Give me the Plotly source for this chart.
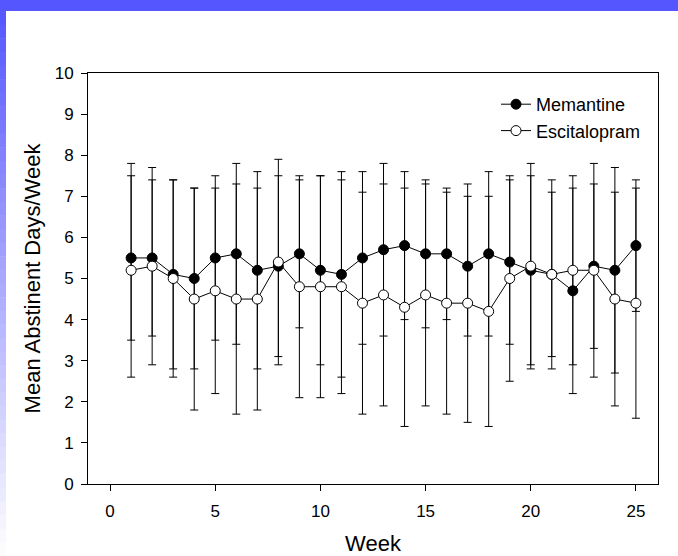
import plotly.graph_objects as go

weeks = list(range(1, 26))
memantine_mean = [5.5, 5.5, 5.1, 5.0, 5.5, 5.6, 5.2, 5.3, 5.6, 5.2, 5.1, 5.5, 5.7, 5.8, 5.6, 5.6, 5.3, 5.6, 5.4, 5.2, 5.1, 4.7, 5.3, 5.2, 5.8]
memantine_sd = [2.0, 1.9, 2.3, 2.2, 2.0, 2.2, 2.4, 2.2, 1.8, 2.3, 2.5, 2.1, 2.1, 1.8, 1.8, 1.6, 1.7, 2.0, 2.0, 2.3, 2.3, 2.5, 2.0, 2.5, 1.6]
escitalopram_mean = [5.2, 5.3, 5.0, 4.5, 4.7, 4.5, 4.5, 5.4, 4.8, 4.8, 4.8, 4.4, 4.6, 4.3, 4.6, 4.4, 4.4, 4.2, 5.0, 5.3, 5.1, 5.2, 5.2, 4.5, 4.4]
escitalopram_sd = [2.6, 2.4, 2.4, 2.7, 2.5, 2.8, 2.7, 2.5, 2.7, 2.7, 2.6, 2.7, 2.7, 2.9, 2.7, 2.7, 2.9, 2.8, 2.5, 2.5, 2.0, 2.3, 2.6, 2.6, 2.8]

W, H = 678, 556
L, R, T, B = 88, 20, 73, 72
pw, ph = W - L - R, H - T - B

def px2x(p):
    return (p - L) / pw

def py2y(p):
    return (H - B - p) / ph

FONT = "Liberation Sans, Arial, sans-serif"

fig = go.Figure()
fig.add_trace(go.Scatter(
    x=weeks, y=memantine_mean, name="Memantine", mode="lines+markers",
    line=dict(color="black", width=1),
    marker=dict(symbol="circle", size=10, color="black", line=dict(color="black", width=1)),
    error_y=dict(type="data", array=memantine_sd, visible=True, color="black", thickness=1, width=4),
    legendgroup="a",
))
fig.add_trace(go.Scatter(
    x=weeks, y=escitalopram_mean, name="Escitalopram", mode="lines+markers",
    line=dict(color="black", width=1),
    marker=dict(symbol="circle", size=10, color="white", line=dict(color="black", width=1)),
    error_y=dict(type="data", array=escitalopram_sd, visible=True, color="black", thickness=1, width=4),
    legendgroup="b",
))

shapes = []
# top band
shapes.append(dict(type="rect", xref="paper", yref="paper", x0=px2x(0), x1=px2x(W), y0=py2y(11), y1=py2y(0),
                   fillcolor="#5656ff", line=dict(width=0), layer="below"))
# left gradient band
n = 40
top, bot = 11, H
for i in range(n):
    y0p = top + (bot - top) * i / n
    y1p = top + (bot - top) * (i + 1) / n
    t = (i + 0.5) / n
    r = int(0x56 + (255 - 0x56) * t)
    col = f"rgb({r},{r},255)"
    shapes.append(dict(type="rect", xref="paper", yref="paper", x0=px2x(0), x1=px2x(6),
                       y0=py2y(y1p + 0.5), y1=py2y(y0p), fillcolor=col, line=dict(width=0), layer="below"))

fig.update_layout(
    width=W, height=H,
    margin=dict(l=L, r=R, t=T, b=B),
    paper_bgcolor="white", plot_bgcolor="white",
    font=dict(family=FONT, size=17, color="black"),
    shapes=shapes,
    showlegend=True,
    legend=dict(x=px2x(496), y=py2y(86), xanchor="left", yanchor="top",
                font=dict(size=18, family=FONT), bgcolor="rgba(0,0,0,0)",
                traceorder="grouped", tracegroupgap=0),
    xaxis=dict(range=[-1.05, 26.05], tickvals=[0, 5, 10, 15, 20, 25], ticks="outside", ticklen=6,
               tickcolor="black", showline=True, linecolor="black", linewidth=1, mirror=True,
               showgrid=False, zeroline=False, tickfont=dict(size=17), ticklabelstandoff=6,
               automargin=False,
               title=dict(text="Week", font=dict(size=22), standoff=22)),
    yaxis=dict(range=[0, 10], dtick=1, ticks="outside", ticklen=6, tickcolor="black",
               showline=True, linecolor="black", linewidth=1, mirror=True,
               showgrid=False, zeroline=False, tickfont=dict(size=17), ticklabelstandoff=4,
               automargin=False,
               title=dict(text="Mean Abstinent Days/Week", font=dict(size=22), standoff=7)),
)

fig.write_html("out.html")
